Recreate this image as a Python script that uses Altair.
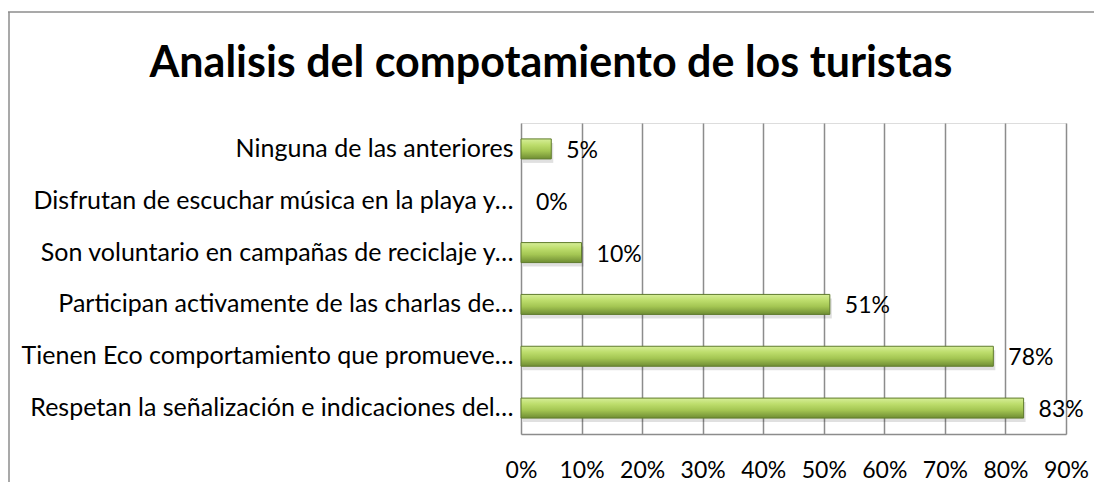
import altair as alt
import pandas as pd

categories = [
    "Ninguna de las anteriores",
    "Disfrutan de escuchar música en la playa y…",
    "Son voluntario en campañas de reciclaje y…",
    "Participan activamente de las charlas de…",
    "Tienen Eco comportamiento que promueve…",
    "Respetan la señalización e indicaciones del…",
]
values = [5, 0, 10, 51, 78, 83]
x_ticks = [0, 10, 20, 30, 40, 50, 60, 70, 80, 90]
title_text = "Analisis del compotamiento de los turistas"

df = pd.DataFrame({"cat": categories, "val": values})
df["label"] = df["val"].astype(str) + "%"

FONT = "Lato"
W, H = 545, 311

y_enc = alt.Y("cat:N", sort=categories, title=None,
              axis=alt.Axis(labelFont=FONT, labelFontSize=25, labelColor="#000000",
                            labelPadding=8, labelLimit=520, ticks=False, domain=False,
                            grid=False))
x_scale = alt.Scale(domain=[0, 90], nice=False)
x_axis = alt.Axis(values=x_ticks, labelExpr="datum.value + '%'", labelFont=FONT,
                  labelFontSize=23, labelColor="#000000", labelPadding=25,
                  labelOverlap=False, labelFlush=False, ticks=False, domain=True,
                  domainColor="#8c8c8c", domainWidth=1.5, grid=True,
                  gridColor="#8c8c8c", gridWidth=1.5, title=None)

base = alt.Chart(df)

shadow = base.transform_filter("datum.val > 0").mark_bar(
    size=20, color="#000000", opacity=0.12, yOffset=4, xOffset=2
).encode(x=alt.X("val:Q", scale=x_scale, axis=x_axis), y=y_enc)

bars = base.transform_filter("datum.val > 0").mark_bar(
    size=20,
    stroke="#5f7b2c",
    strokeWidth=1,
    color=alt.Gradient(
        gradient="linear",
        stops=[
            alt.GradientStop(color="#d6ee98", offset=0),
            alt.GradientStop(color="#bddd6c", offset=0.3),
            alt.GradientStop(color="#a4c653", offset=0.6),
            alt.GradientStop(color="#6f8d33", offset=1),
        ],
        x1=0, x2=0, y1=0, y2=1,
    ),
).encode(x=alt.X("val:Q", scale=x_scale, axis=x_axis), y=y_enc)

labels = base.mark_text(align="left", baseline="middle", dx=15, dy=2,
                        font=FONT, fontSize=23, color="#000000").encode(
    x=alt.X("val:Q", scale=x_scale), y=alt.Y("cat:N", sort=categories), text="label:N")

one = pd.DataFrame({"a": [0]})
border_left = alt.Chart(one).mark_rule(color="#8c8c8c", strokeWidth=1.5).encode(
    x=alt.value(-512), y=alt.value(-111), y2=alt.value(H + 120))
border_top = alt.Chart(one).mark_rule(color="#8c8c8c", strokeWidth=1.5).encode(
    x=alt.value(-513), x2=alt.value(W + 60), y=alt.value(-111))

title = alt.Chart(one).mark_text(
    align="center", baseline="alphabetic", font=FONT, fontSize=43,
    fontWeight="bold", color="#000000").encode(
    x=alt.value(30), y=alt.value(-46), text=alt.value(title_text))

chart = alt.layer(border_left, border_top, shadow, bars, labels, title).properties(
    width=W, height=H,
    padding={"left": 513, "top": 115, "right": 28, "bottom": 48},
    autosize=alt.AutoSizeParams(type="none"),
).configure_view(stroke=None).configure(background="#ffffff")

chart.save("out.html", embed_options={"renderer": "svg", "actions": False})
